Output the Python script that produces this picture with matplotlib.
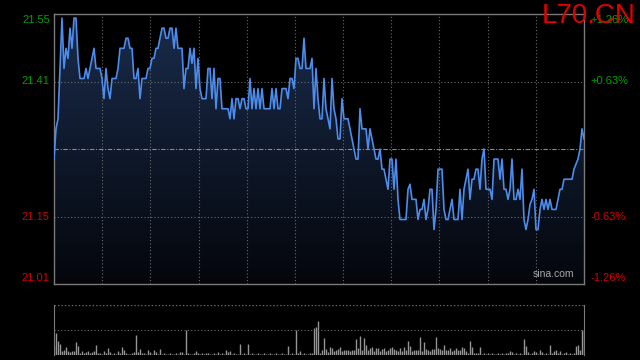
import matplotlib
matplotlib.use("Agg")
import matplotlib.pyplot as plt
import numpy as np
from matplotlib.colors import LinearSegmentedColormap

plt.rcParams["font.family"] = ["Liberation Sans", "DejaVu Sans"]

# intraday price, one value per sample
price = [
    21.26, 21.32, 21.34, 21.44, 21.54, 21.44, 21.48, 21.46, 21.52, 21.48,
    21.54, 21.54, 21.46, 21.42, 21.42, 21.42, 21.44, 21.42, 21.44, 21.46,
    21.48, 21.44, 21.44, 21.44, 21.42, 21.38, 21.44, 21.40, 21.38, 21.42,
    21.42, 21.42, 21.44, 21.48, 21.48, 21.48, 21.50, 21.50, 21.48, 21.48,
    21.42, 21.42, 21.44, 21.38, 21.42, 21.42, 21.42, 21.44, 21.44, 21.46,
    21.46, 21.48, 21.48,
    21.50, 21.52, 21.52, 21.50, 21.50, 21.52, 21.52, 21.48, 21.52, 21.48,
    21.48, 21.48, 21.40, 21.44, 21.44, 21.48, 21.45, 21.48, 21.40, 21.46,
    21.40, 21.38, 21.38, 21.38, 21.44, 21.44, 21.38, 21.44, 21.36, 21.42,
    21.42, 21.36, 21.36, 21.36, 21.36, 21.34, 21.38, 21.34, 21.38, 21.38,
    21.36, 21.38, 21.38, 21.36, 21.36, 21.42, 21.36, 21.40, 21.36, 21.40,
    21.36, 21.40, 21.36,
    21.36, 21.36, 21.36, 21.40, 21.36, 21.40, 21.36, 21.36, 21.40, 21.40,
    21.40, 21.38, 21.42, 21.42, 21.40, 21.46, 21.46, 21.44, 21.44, 21.50,
    21.44, 21.44, 21.44, 21.46, 21.36, 21.44, 21.38, 21.34, 21.34, 21.42,
    21.36, 21.34, 21.32, 21.42, 21.36, 21.34, 21.30, 21.30, 21.38, 21.34,
    21.34, 21.34, 21.32, 21.30, 21.28, 21.26, 21.26, 21.36, 21.32, 21.32,
    21.32, 21.28, 21.32,
    21.30, 21.28, 21.26, 21.26, 21.28, 21.24, 21.24, 21.22, 21.20, 21.26,
    21.26, 21.20, 21.26, 21.18, 21.14, 21.14, 21.14, 21.14, 21.20, 21.21,
    21.18, 21.18, 21.18, 21.14, 21.16, 21.16, 21.18, 21.14, 21.16, 21.20,
    21.20, 21.12, 21.16, 21.24, 21.24, 21.24, 21.16, 21.14, 21.14, 21.16,
    21.18, 21.14, 21.14, 21.14, 21.20, 21.14, 21.20, 21.22, 21.24, 21.18,
    21.22, 21.22, 21.24,
    21.24, 21.20, 21.26, 21.28, 21.20, 21.20, 21.20, 21.18, 21.26, 21.26,
    21.26, 21.22, 21.26, 21.20, 21.20, 21.18, 21.20, 21.26, 21.18, 21.18,
    21.20, 21.18, 21.24, 21.14, 21.12, 21.14, 21.17, 21.18, 21.20, 21.12,
    21.12, 21.16, 21.18, 21.16, 21.18, 21.16, 21.18, 21.16, 21.16, 21.16,
    21.18, 21.20, 21.20, 21.22, 21.22, 21.22, 21.22, 21.22, 21.24, 21.25,
    21.26, 21.28, 21.32, 21.30,
]

volume = [
    18, 44, 28, 22, 7, 10, 15, 7, 5, 7,
    7, 26, 18, 4, 7, 3, 5, 7, 3, 5,
    7, 20, 3, 3, 2, 7, 3, 13, 5, 2,
    3, 2, 7, 3, 16, 9, 3, 2, 2, 3,
    5, 40, 5, 12, 3, 3, 2, 10, 5, 2,
    10, 5, 2, 12, 2, 3, 2, 2, 3, 2,
    2, 3, 2, 5, 6, 2, 50, 3, 2, 2,
    3, 8, 3, 2, 3, 2, 3, 3, 2, 2,
    3, 2, 6, 2, 3, 2, 10, 5, 8, 2,
    3, 2, 2, 22, 2, 3, 2, 22, 2, 3,
    2, 2, 3, 2, 2, 3, 2, 2, 3, 2,
    2, 3, 2, 2, 3, 2, 2, 18, 2, 3,
    2, 50, 3, 8, 2, 3, 2, 2, 3, 3,
    54, 56, 68, 4, 9, 33, 11, 5, 15, 13,
    7, 10, 11, 15, 7, 10, 9, 10, 7, 9,
    10, 31, 13, 37, 9, 33, 20, 10, 13, 15,
    7, 13, 13, 7, 11, 13, 7, 10, 13, 15,
    11, 10, 8, 14, 7, 15, 9, 28, 18, 7,
    9, 10, 10, 36, 7, 25, 11, 9, 8, 11,
    11, 36, 13, 11, 10, 20, 9, 10, 13, 7,
    10, 13, 9, 10, 15, 13, 7, 4, 28, 15,
    3, 3, 3, 16, 2, 3, 2, 4, 2, 3,
    2, 2, 3, 2, 4, 2, 3, 3, 8, 5,
    2, 3, 2, 3, 2, 32, 18, 6, 2, 3,
    8, 5, 2, 10, 5, 2, 3, 2, 20, 3,
    8, 10, 3, 7, 2, 3, 6, 2, 3, 2,
    3, 18, 20, 10, 50, 50,
]

prev_close = 21.28
pct_levels = [1.26, 0.63, -0.63, -1.26]
left_labels = ["21.55", "21.41", "21.15", "21.01"]
right_labels = ["+1.26%", "+0.63%", "-0.63%", "-1.26%"]
symbol = "L70.CN"

GREEN = "#00a000"
RED = "#d40000"
GRID = "#6a6a6a"
BORDER = "#7a7a7a"


def main():
    x = np.arange(len(price))
    n = len(price) - 1
    ymin = prev_close * (1 - 0.0126)
    ymax = prev_close * (1 + 0.0126)

    fig = plt.figure(figsize=(6.4, 3.6), dpi=100, facecolor="black")
    ax = fig.add_axes([54 / 640, 1 - 284 / 360, 530 / 640, 270 / 360], facecolor="black")
    axv = fig.add_axes([54 / 640, 1 - 355 / 360, 530 / 640, 50.5 / 360], facecolor="black")

    # gradient fill under the price line
    poly = ax.fill_between(x, price, ymin, color="none", lw=0)
    cmap = LinearSegmentedColormap.from_list("fill", ["#04060b", "#1a2c4c"])
    grad = np.linspace(1, 0, 256).reshape(-1, 1)
    im = ax.imshow(grad, extent=[0, n, ymin, ymax], aspect="auto", cmap=cmap,
                   origin="upper", zorder=1)
    im.set_clip_path(poly.get_paths()[0], transform=ax.transData)

    for k in range(1, 11):
        ax.axvline(k * n / 11, color=GRID, lw=0.8, ls=(0, (1, 2)), zorder=2)
    for p in (0.63, -0.63):
        ax.axhline(prev_close * (1 + p / 100), color=GRID, lw=0.8, ls=(0, (1, 2)), zorder=2)
    ax.axhline(prev_close, color="#8a8a8a", lw=0.8, ls=(0, (4, 1.5, 1, 1.5)), zorder=2)

    ax.plot(x, price, color="#4d8ceb", lw=1.2, zorder=3)

    ax.set_xlim(0, n)
    ax.set_ylim(ymin, ymax)
    ax.set_xticks([])
    ax.set_yticks([])
    for s in ax.spines.values():
        s.set_color(BORDER)
        s.set_linewidth(1)

    tr = ax.get_yaxis_transform()
    for i, (p, ll, rl) in enumerate(zip(pct_levels, left_labels, right_labels)):
        y = prev_close * (1 + p / 100)
        col = GREEN if p > 0 else RED
        dy = 0
        if i == 0:
            dy = -0.00056 * prev_close
        elif i == len(pct_levels) - 1:
            dy = 0.00056 * prev_close
        ax.text(-0.008, y + dy, ll, transform=tr, ha="right", va="center", color=col, fontsize=8)
        ax.text(1.012, y + dy, rl, transform=tr, ha="left", va="center", color=col, fontsize=8)

    ax.text(0.982, 0.018, "sina.com", transform=ax.transAxes, ha="right", va="bottom",
            color="#a8a8a8", fontsize=7.5)
    fig.text(636 / 640, 1 - 3 / 360, symbol, ha="right", va="top", color="#e00000",
             fontsize=20)

    # volume panel
    axv.vlines(x, 0, volume, color="#959595", lw=1.0)
    axv.set_xlim(0, n)
    axv.set_ylim(0, 100)
    axv.axhline(50, color=GRID, lw=0.8, ls=(0, (1, 2)))
    axv.axhline(100, color=GRID, lw=1.0, ls=(0, (1, 1.5)))
    axv.set_xticks([])
    axv.set_yticks([])
    for side in ("left", "right"):
        axv.spines[side].set_color(BORDER)
    axv.spines["top"].set_visible(False)
    axv.spines["bottom"].set_visible(False)

    fig.savefig("out.png", dpi=100, facecolor="black")
    plt.close(fig)


if __name__ == "__main__":
    main()
